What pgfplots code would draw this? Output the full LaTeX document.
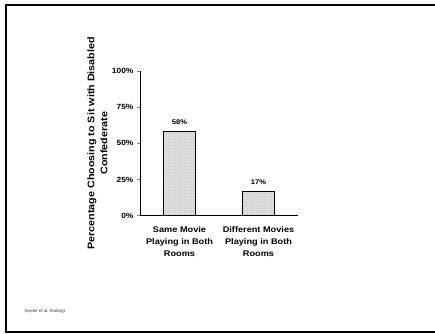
\documentclass[border=0pt]{standalone}
\usepackage{fontspec}
\setmainfont{Liberation Sans}[FakeStretch=1.12]
\newfontfamily\footfont{Carlito}
\usepackage{pgfplots}
\pgfplotsset{compat=1.18}
\usetikzlibrary{patterns}
\begin{document}
\begin{tikzpicture}[x=1pt,y=1pt]
\path[use as bounding box] (0,0) rectangle (435,333);
\draw[line width=2pt] (435,327.5) -- (6,327.5) -- (6,1.5) -- (435,1.5);
\node[anchor=west,font=\footfont\fontsize{4.8}{5}\selectfont,text=black!80] at (21,22) {Snyder et al. findings};
\begin{axis}[
  at={(140pt,117.3pt)}, anchor=south west,
  scale only axis, width=158pt, height=144.7pt,
  xmin=0, xmax=2, ymin=0, ymax=100,
  axis x line=bottom, axis y line=left,
  axis line style={-, line width=0.9pt},
  xtick={0.5,1.5},
  xticklabels={Same Movie\\Playing in Both\\Rooms, Different Movies\\Playing in Both\\Rooms},
  xticklabel style={align=center, font=\bfseries\fontsize{8.2}{12}\selectfont, yshift=-4pt},
  xtick style={draw=none},
  ytick={0,25,50,75,100},
  yticklabel={\pgfmathprintnumber{\tick}\%},
  yticklabel style={font=\bfseries\fontsize{7.5}{8}\selectfont},
  /pgf/number format/assume math mode=true,
  tick align=outside, major tick length=3pt,
  ytick style={line width=0.8pt},
  ylabel={Percentage Choosing to Sit with Disabled\\Confederate},
  ylabel style={at={(axis description cs:-0.27,0.5)}, anchor=center, align=center, font=\bfseries\fontsize{9.6}{13}\selectfont},
  nodes near coords={\pgfmathprintnumber{\pgfplotspointmeta}\%},
  nodes near coords style={font=\bfseries\fontsize{6.8}{7}\selectfont, anchor=south, yshift=3pt},
  clip=false,
]
\addplot[ybar, bar width=32pt, draw=black, line width=1.2pt, fill=black!12,
  postaction={pattern=crosshatch dots, pattern color=black!25}]
  coordinates {(0.5,58) (1.5,17)};
\end{axis}
\end{tikzpicture}
\end{document}
